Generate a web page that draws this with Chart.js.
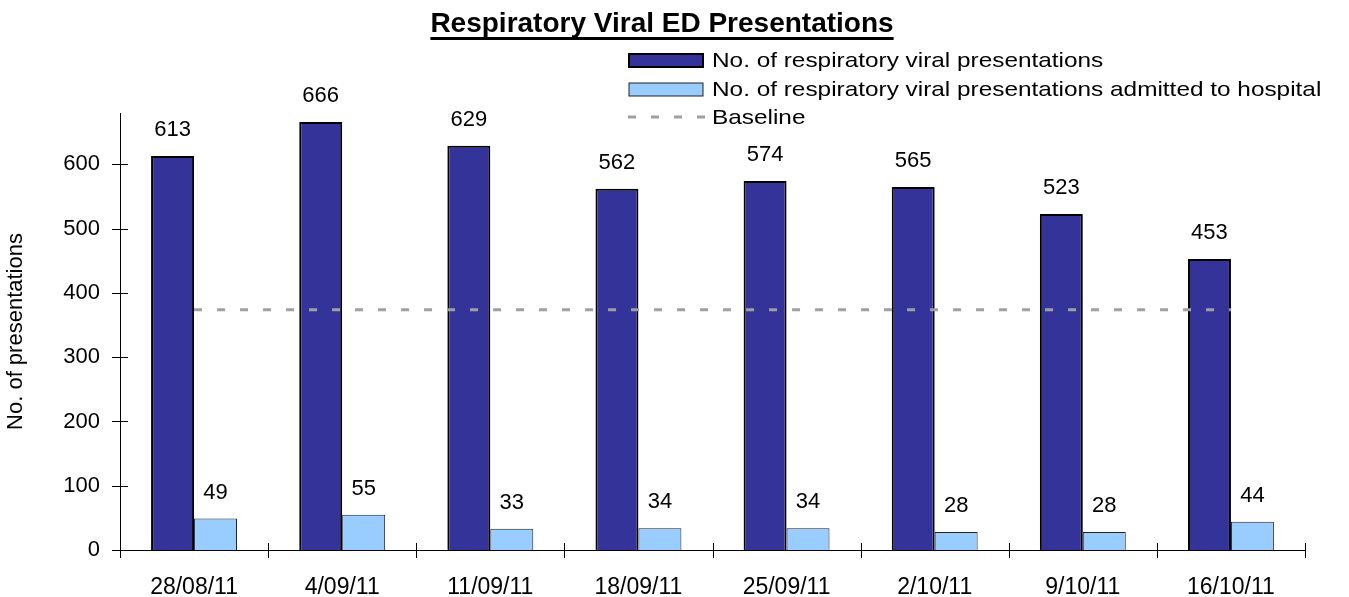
<!DOCTYPE html>
<html>
<head>
<meta charset="utf-8">
<script src="https://cdn.jsdelivr.net/npm/chart.js@4.4.1/dist/chart.umd.min.js"></script>
<style>
  html, body { margin: 0; padding: 0; background: #fff; }
  #wrap { width: 1349px; height: 597px; }
</style>
</head>
<body>
<div id="wrap"><canvas id="grafica" width="1349" height="597"></canvas></div>
<script>
// datos
var titulo = "Respiratory Viral ED Presentations";
var semanas = ["28/08/11", "4/09/11", "11/09/11", "18/09/11", "25/09/11", "2/10/11", "9/10/11", "16/10/11"];
var presentaciones = [613, 666, 629, 562, 574, 565, 523, 453];
var admitidos = [49, 55, 33, 34, 34, 28, 28, 44];
var lineaBase = [374, 374, 374, 374, 374, 374, 374, 374];

var fuente = '"Liberation Sans", Arial, sans-serif';
Chart.defaults.font.family = fuente;
Chart.defaults.color = "#000";

// etiquetas, titulo, leyenda y marcas de eje
var extras = {
  id: "extras",
  afterDatasetsDraw: function (chart) {
    var ctx = chart.ctx;
    ctx.save();
    ctx.fillStyle = "#000";
    ctx.font = "22px " + fuente;
    ctx.textAlign = "center";
    ctx.textBaseline = "middle";
    [0, 1].forEach(function (d) {
      var meta = chart.getDatasetMeta(d);
      meta.data.forEach(function (bar, i) {
        ctx.fillText(chart.data.datasets[d].data[i], bar.x, bar.y - 26);
      });
    });
    ctx.restore();
  },
  afterDraw: function (chart) {
    var ctx = chart.ctx;
    var xs = chart.scales.x;
    var ys = chart.scales.y;
    ctx.save();

    // marcas que cruzan los ejes
    ctx.strokeStyle = "#000";
    ctx.lineWidth = 1;
    ctx.beginPath();
    ys.ticks.forEach(function (t) {
      var y = Math.round(ys.getPixelForValue(t.value)) + 0.5;
      ctx.moveTo(xs.left - 8, y);
      ctx.lineTo(xs.left + 8, y);
    });
    var paso = xs.width / semanas.length;
    for (var i = 0; i <= semanas.length; i++) {
      var x = Math.round(xs.left + i * paso) + 0.5;
      ctx.moveTo(x, ys.bottom - 7);
      ctx.lineTo(x, ys.bottom + 8);
    }
    ctx.stroke();

    // titulo subrayado
    ctx.fillStyle = "#000";
    ctx.font = "bold 28px " + fuente;
    ctx.textBaseline = "alphabetic";
    var w = ctx.measureText(titulo).width;
    ctx.fillText(titulo, 662 - w / 2, 32);
    ctx.fillRect(662 - w / 2, 37, w, 3);

    // leyenda
    var filas = [60, 89, 117];
    var ds = chart.data.datasets;
    for (var k = 0; k < 3; k++) {
      var cy = filas[k];
      if (ds[k].type === "line") {
        ctx.strokeStyle = ds[k].borderColor;
        ctx.lineWidth = 3;
        ctx.setLineDash(ds[k].borderDash);
        ctx.beginPath();
        ctx.moveTo(628, cy);
        ctx.lineTo(705, cy);
        ctx.stroke();
        ctx.setLineDash([]);
      } else {
        ctx.fillStyle = ds[k].backgroundColor;
        ctx.fillRect(629, cy - 6, 74, 13);
        ctx.strokeStyle = ds[k].borderColor;
        ctx.lineWidth = ds[k].borderWidth;
        ctx.strokeRect(629, cy - 6, 74, 13);
      }
      ctx.fillStyle = "#000";
      ctx.font = "21px " + fuente;
      ctx.textBaseline = "middle";
      ctx.save();
      ctx.translate(712, cy + 1);
      ctx.scale(1.16, 1);
      ctx.fillText(ds[k].label, 0, 0);
      ctx.restore();
    }
    ctx.restore();
  }
};

var ctx = document.getElementById("grafica").getContext("2d");
new Chart(ctx, {
  type: "bar",
  data: {
    labels: semanas,
    datasets: [
      {
        label: "No. of respiratory viral presentations",
        data: presentaciones,
        backgroundColor: "#333399",
        borderColor: "#000",
        borderWidth: 2,
        order: 1
      },
      {
        label: "No. of respiratory viral presentations admitted to hospital",
        data: admitidos,
        backgroundColor: "#99ccff",
        borderColor: "#222",
        borderWidth: 1,
        order: 1
      },
      {
        type: "line",
        label: "Baseline",
        data: lineaBase,
        borderColor: "#a0a0a0",
        borderWidth: 3,
        borderDash: [8, 15],
        pointRadius: 0,
        fill: false,
        order: 0
      }
    ]
  },
  options: {
    responsive: false,
    animation: false,
    devicePixelRatio: 1,
    layout: { padding: { top: 113, right: 44, left: 0, bottom: 0 } },
    datasets: {
      bar: { categoryPercentage: 0.58, barPercentage: 1 }
    },
    plugins: {
      legend: { display: false },
      title: { display: false },
      tooltip: { enabled: false }
    },
    scales: {
      x: {
        grid: { display: false, drawTicks: false },
        border: { color: "#000", width: 1 },
        ticks: { font: { size: 23 }, padding: 24, maxRotation: 0 },
        afterFit: function (s) { s.height = 47; }
      },
      y: {
        min: 0,
        max: 680,
        grid: { display: false, drawTicks: false },
        border: { color: "#000", width: 1 },
        ticks: { stepSize: 100, font: { size: 22 }, padding: 20 },
        afterBuildTicks: function (s) {
          s.ticks = s.ticks.filter(function (t) { return t.value % 100 === 0; });
        },
        title: {
          display: true,
          text: "No. of presentations",
          font: { size: 22 },
          padding: { top: 3, bottom: 0 }
        },
        afterFit: function (s) { s.width = 120; }
      }
    }
  },
  plugins: [extras]
});
</script>
</body>
</html>
